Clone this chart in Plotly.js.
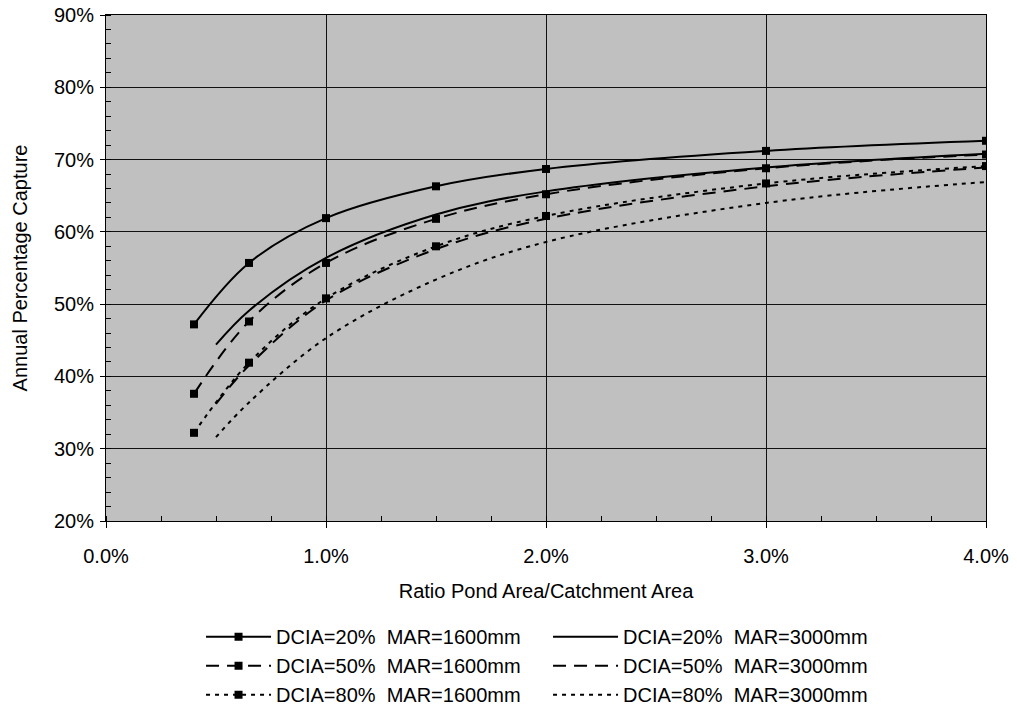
<!DOCTYPE html>
<html>
<head>
<meta charset="utf-8">
<script src="https://cdn.plot.ly/plotly-3.0.1.min.js"></script>
<style>html,body{margin:0;padding:0;background:#fff;}#chart{width:1017px;height:708px;}</style>
</head>
<body>
<div id="chart"></div>
<script>
// Ratio pond area / catchment area (%)
const x1600 = [0.4, 0.65, 1.0, 1.5, 2.0, 3.0, 4.0];
const x3000 = [0.5, 0.65, 1.0, 1.5, 2.0, 3.0, 4.0];
// Annual percentage capture (%)
const dcia20_1600 = [47.2, 55.7, 61.9, 66.3, 68.7, 71.2, 72.6];
const dcia50_1600 = [37.6, 47.6, 55.7, 61.8, 65.2, 68.8, 70.7];
const dcia80_1600 = [32.2, 41.9, 50.8, 58.0, 62.2, 66.7, 69.1];
const dcia20_3000 = [44.4, 49.1, 56.4, 62.4, 65.6, 68.9, 70.8];
const dcia50_3000 = [36.2, 41.5, 50.5, 57.6, 61.8, 66.3, 68.9];
const dcia80_3000 = [31.6, 36.4, 45.3, 53.4, 58.6, 64.0, 66.9];
const names = [
  'DCIA=20%  MAR=1600mm', 'DCIA=20%  MAR=3000mm',
  'DCIA=50%  MAR=1600mm', 'DCIA=50%  MAR=3000mm',
  'DCIA=80%  MAR=1600mm', 'DCIA=80%  MAR=3000mm'
];
const xTickVals = [0, 1, 2, 3, 4];
const xTickText = ['0.0%', '1.0%', '2.0%', '3.0%', '4.0%'];
const yTickVals = [20, 30, 40, 50, 60, 70, 80, 90];
const yTickText = ['20%', '30%', '40%', '50%', '60%', '70%', '80%', '90%'];

const FONT = 'Liberation Sans, Arial, sans-serif';
const FS = 20;
const DASH50 = '13px,8px';
const DOT80 = '4px,5px';

function tr(x, y, name, dash, markers) {
  return {
    x: x, y: y, name: name, type: 'scatter',
    mode: markers ? 'lines+markers' : 'lines',
    line: {color: '#000', width: 2, dash: dash, shape: 'spline', smoothing: 1},
    marker: {symbol: 'square', size: 8, color: '#000'},
    hoverinfo: 'skip'
  };
}

const data = [
  tr(x1600, dcia20_1600, names[0], 'solid', true),
  tr(x3000, dcia20_3000, names[1], 'solid', false),
  tr(x1600, dcia50_1600, names[2], DASH50, true),
  tr(x3000, dcia50_3000, names[3], DASH50, false),
  tr(x1600, dcia80_1600, names[4], DOT80, true),
  tr(x3000, dcia80_3000, names[5], DOT80, false)
];

const layout = {
  width: 1017, height: 708,
  margin: {l: 106, r: 31, t: 15, b: 187, autoexpand: false},
  paper_bgcolor: '#ffffff',
  plot_bgcolor: '#c0c0c0',
  font: {family: FONT, size: FS, color: '#000'},
  showlegend: true,
  xaxis: {
    range: [0, 4], tickvals: xTickVals, ticktext: xTickText, automargin: false,
    showgrid: true, gridcolor: '#111', gridwidth: 1,
    showline: true, linecolor: '#000', linewidth: 1, mirror: true,
    ticks: 'outside', ticklen: 6, tickcolor: '#000', ticklabelstandoff: 11,
    minor: {dtick: 0.25, ticks: 'inside', ticklen: 5, tickcolor: '#000', showgrid: false},
    zeroline: false,
    title: {text: 'Ratio Pond Area/Catchment Area', standoff: 17, font: {family: FONT, size: FS}}
  },
  yaxis: {
    range: [20, 90], tickvals: yTickVals, ticktext: yTickText, automargin: false,
    showgrid: true, gridcolor: '#111', gridwidth: 1,
    showline: true, linecolor: '#000', linewidth: 1, mirror: true,
    ticks: 'outside', ticklen: 5, tickcolor: '#000', ticklabelstandoff: 2,
    minor: {dtick: 2, ticks: 'inside', ticklen: 5, tickcolor: '#000', showgrid: false},
    zeroline: false,
    title: {text: 'Annual Percentage Capture', standoff: 20, font: {family: FONT, size: FS}}
  },
  legend: {
    orientation: 'h', x: 0.108, xanchor: 'left', y: -0.19, yanchor: 'top',
    entrywidth: 267, font: {family: FONT, size: FS},
    bgcolor: 'rgba(0,0,0,0)', itemwidth: 65, traceorder: 'normal'
  }
};

Plotly.newPlot('chart', data, layout, {staticPlot: true, displayModeBar: false});
</script>
</body>
</html>
